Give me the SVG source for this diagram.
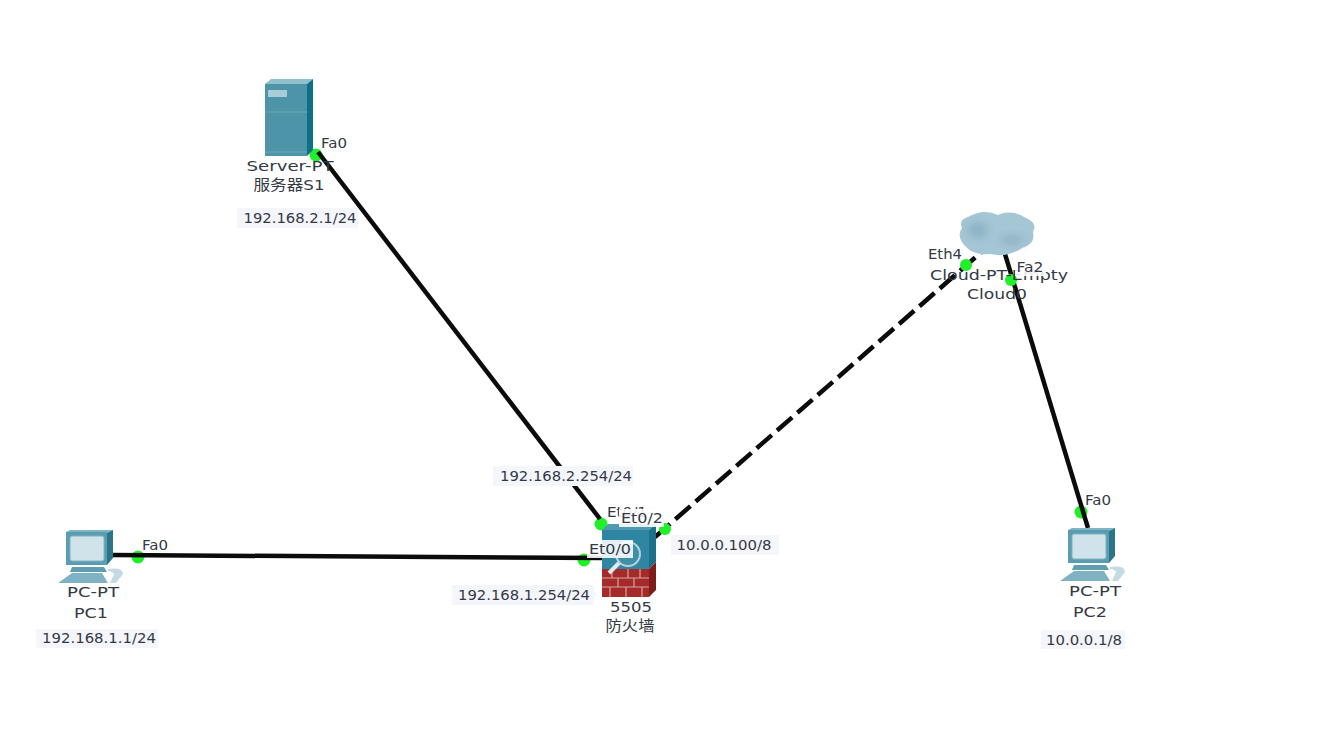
<svg xmlns="http://www.w3.org/2000/svg" width="1329" height="730" viewBox="0 0 1329 730">
<style>
text{font-family:"DejaVu Sans","Noto Sans CJK SC",sans-serif;font-size:14.5px;fill:#333a45;text-anchor:middle}
.l{fill:none;stroke:#0b0b0b;stroke-width:4.5}
.p{fill:#1ff02a}
.ip{fill:#f5f5fc}
.pl{fill:#fff;opacity:.88}
.i{filter:url(#b)}
</style>
<defs>
<filter id="b" x="-10%" y="-10%" width="120%" height="120%"><feGaussianBlur stdDeviation="0.6"/></filter>
<filter id="b2" x="-40%" y="-40%" width="180%" height="180%"><feGaussianBlur stdDeviation="4"/></filter>
<g id="pc">
<path d="M6 5L10 3H53L47 6Z" fill="#7fb4c4"/>
<path d="M6 5H47V38H6Z" fill="#5a9db2"/>
<path d="M47 6L53 3V31L47 38Z" fill="#2c7487"/>
<rect x="10" y="9" width="34" height="25" rx="2" fill="#d0e3ea" stroke="#80b2c1" stroke-width="1"/>
<path d="M12 40H44L47 45H10Z" fill="#5e9db0"/>
<path d="M12 46H42L48 56H-2Z" fill="#7fb3c4"/>
<path d="M48 42Q63 40 63 47L56 56H50L54 47Q52 44 48 44Z" fill="#c5dbe3"/>
</g>
</defs>
<rect width="1329" height="730" fill="#fff"/>
<g id="ports">
<circle class="p" cx="316" cy="155" r="6.5"/>
<circle class="p" cx="138" cy="557" r="6.5"/>
<circle class="p" cx="601" cy="524" r="6.5"/>
<circle class="p" cx="584" cy="560" r="6.5"/>
<circle class="p" cx="1081" cy="512" r="6.5"/>
</g>
<g id="connectors">
<path class="l" d="M318 152L600 519"/>
<path class="l" d="M112 555L604 558"/>
<path class="l" d="M655 537L985 249" stroke-dasharray="20 7"/>
<path class="l" d="M1005 254L1088 528"/>
</g>
<g id="ports-top">
<circle class="p" cx="665" cy="529" r="6"/>
<circle class="p" cx="966" cy="265" r="6"/>
<circle class="p" cx="1011" cy="280" r="6"/>
</g>
<g id="server">
<g class="i">
<path d="M265 84L271 79H313L307 84Z" fill="#8fc0cc"/>
<path d="M265 84H307V156H265Z" fill="#4d94a9"/>
<path d="M307 84L313 79V150L307 156Z" fill="#0f6f88"/>
<rect x="268" y="90" width="19" height="7" fill="#a9cdd8"/>
<path d="M265 112H307M265 152H307" stroke="#6fa9ba" stroke-width="1"/>
</g>
<text x="290" y="171" textLength="87" lengthAdjust="spacingAndGlyphs">Server-PT</text>
<text x="289" y="190" textLength="71" lengthAdjust="spacingAndGlyphs">服务器S1</text>
<rect class="ip" x="237" y="208" width="121" height="20"/>
<text x="300" y="223" textLength="113" lengthAdjust="spacingAndGlyphs">192.168.2.1/24</text>
</g>
<g id="pc1">
<use class="i" href="#pc" x="60" y="527"/>
<text x="93" y="597" textLength="52" lengthAdjust="spacingAndGlyphs">PC-PT</text>
<text x="91" y="618" textLength="34" lengthAdjust="spacingAndGlyphs">PC1</text>
<rect class="ip" x="36" y="629" width="122" height="19"/>
<text x="99" y="643" textLength="114" lengthAdjust="spacingAndGlyphs">192.168.1.1/24</text>
</g>
<g id="pc2">
<use class="i" href="#pc" x="1062" y="525"/>
<text x="1095" y="596" textLength="52" lengthAdjust="spacingAndGlyphs">PC-PT</text>
<text x="1090" y="617" textLength="34" lengthAdjust="spacingAndGlyphs">PC2</text>
<rect class="ip" x="1041" y="630" width="84" height="19"/>
<text x="1084" y="645" textLength="76" lengthAdjust="spacingAndGlyphs">10.0.0.1/8</text>
</g>
<g id="firewall">
<g class="i">
<path d="M602 530L608 524H656L649 530Z" fill="#4f9ab0"/>
<rect x="602" y="530" width="47" height="39" fill="#2f86a2"/>
<path d="M649 530L656 524V562L649 569Z" fill="#1c6f8a"/>
<rect x="602" y="569" width="47" height="28" fill="#a52a2a"/>
<path d="M649 569L656 562V590L649 597Z" fill="#7f1e1e"/>
<path d="M602 578H649M602 587H649M612 569V578M628 569V578M640 569V578M618 578V587M634 578V587M610 587V597M626 587V597M642 587V597" stroke="#d6a7a0" stroke-width="1.2" fill="none"/>
<circle cx="628" cy="554" r="12" fill="#3f8fa9" stroke="#b9d0d9" stroke-width="2"/>
<path d="M619 563L609 573" stroke="#dfe9ec" stroke-width="4"/>
</g>
<text x="631" y="612" textLength="42" lengthAdjust="spacingAndGlyphs">5505</text>
<text x="630" y="631" textLength="49" lengthAdjust="spacingAndGlyphs">防火墙</text>
</g>
<g id="cloud">
<path class="i" d="M968 217Q984 208 998 215Q1012 209 1026 218Q1038 223 1033 232Q1036 244 1022 248Q1008 258 990 254Q974 256 965 246Q956 236 962 228Q958 220 968 217Z" fill="#a5c6d4"/>
<ellipse cx="978" cy="230" rx="10" ry="8" fill="#8cb2c4" filter="url(#b2)"/>
<ellipse cx="1012" cy="240" rx="12" ry="6" fill="#92b6c7" filter="url(#b2)"/>
<text x="999" y="280" textLength="138" lengthAdjust="spacingAndGlyphs">Cloud-PT-Empty</text>
<text x="997" y="299" textLength="60" lengthAdjust="spacingAndGlyphs">Cloud0</text>
</g>
<g id="labels">
<text x="334" y="148" textLength="26" lengthAdjust="spacingAndGlyphs">Fa0</text>
<text x="155" y="550" textLength="26" lengthAdjust="spacingAndGlyphs">Fa0</text>
<text x="1098" y="505" textLength="26" lengthAdjust="spacingAndGlyphs">Fa0</text>
<text x="945" y="259" textLength="34" lengthAdjust="spacingAndGlyphs">Eth4</text>
<rect class="pl" x="1015" y="259" width="31" height="17"/>
<text x="1030" y="272" textLength="27" lengthAdjust="spacingAndGlyphs">Fa2</text>
<rect class="ip" x="493" y="466" width="140" height="20"/>
<text x="566" y="481" textLength="132" lengthAdjust="spacingAndGlyphs">192.168.2.254/24</text>
<text x="627" y="517" textLength="40" lengthAdjust="spacingAndGlyphs">Et0/1</text>
<rect class="pl" x="619" y="509" width="45" height="18"/>
<text x="642" y="523" textLength="42" lengthAdjust="spacingAndGlyphs">Et0/2</text>
<rect class="pl" x="587" y="540" width="46" height="18"/>
<text x="610" y="554" textLength="42" lengthAdjust="spacingAndGlyphs">Et0/0</text>
<rect class="ip" x="452" y="585" width="142" height="20"/>
<text x="524" y="600" textLength="132" lengthAdjust="spacingAndGlyphs">192.168.1.254/24</text>
<rect class="ip" x="671" y="535" width="108" height="20"/>
<text x="724" y="550" textLength="95" lengthAdjust="spacingAndGlyphs">10.0.0.100/8</text>
</g>
</svg>
